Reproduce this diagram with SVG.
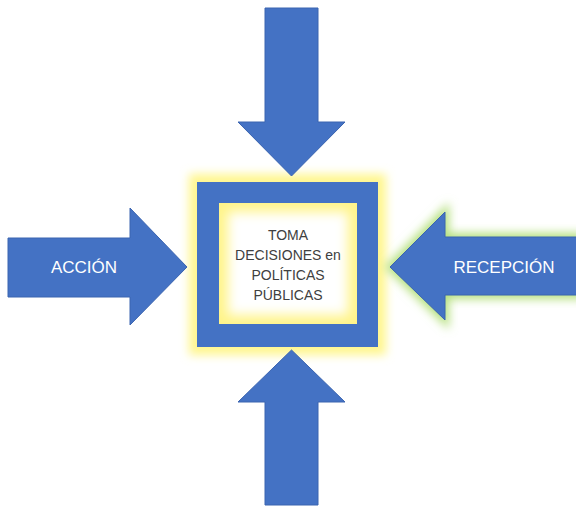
<svg xmlns="http://www.w3.org/2000/svg" width="576" height="516" viewBox="0 0 576 516">
<style>
.arrow{fill:#4472C4;stroke:#3A64B0;stroke-width:1}
.lbl{font-family:"Liberation Sans","Open Sans",sans-serif;font-size:17px;fill:#FFFFFF;text-anchor:middle}
.ctr{font-family:"Liberation Sans","Open Sans",sans-serif;font-size:14px;fill:#404040;text-anchor:middle}
</style>
<defs>
<filter id="glowY" x="-20%" y="-20%" width="140%" height="140%">
<feGaussianBlur stdDeviation="5"/>
</filter>
<filter id="glowG" x="-20%" y="-30%" width="140%" height="160%">
<feGaussianBlur stdDeviation="5"/>
</filter>
<filter id="soft" x="-20%" y="-20%" width="140%" height="140%">
<feGaussianBlur stdDeviation="6"/>
</filter>
<clipPath id="innerClip"><rect x="219" y="203" width="138" height="121"/></clipPath>
</defs>
<rect width="576" height="516" fill="#FFFFFF"/>
<g id="center">
<rect x="189" y="174" width="197" height="181" fill="#FFF68F" filter="url(#glowY)"/>
<rect x="197" y="182" width="181" height="165" fill="#4472C4"/>
<g clip-path="url(#innerClip)">
<rect x="219" y="203" width="138" height="121" fill="#FFF48A"/>
<rect x="228" y="212" width="120" height="103" fill="#FFFFFF" filter="url(#soft)"/>
</g>
<text class="ctr" x="288" y="240">TOMA</text>
<text class="ctr" x="288" y="260">DECISIONES en</text>
<text class="ctr" x="288" y="280">POLÍTICAS</text>
<text class="ctr" x="288" y="300">PÚBLICAS</text>
</g>
<g id="connectors">
<g id="arrow-top">
<polygon class="arrow" points="265,8 318,8 318,122 345,122 291.5,176 238,122 265,122"/>
</g>
<g id="arrow-bottom">
<polygon class="arrow" points="291.5,350 345,402 318,402 318,505 265,505 265,402 238,402"/>
</g>
<g id="arrow-left">
<polygon class="arrow" points="8,238 130,238 130,208 187,267 130,325 130,297 8,297"/>
<text class="lbl" x="84" y="273">ACCIÓN</text>
</g>
<g id="arrow-right">
<polygon points="390,267 445,212 445,237 580,237 580,295 445,295 445,320" fill="#B5E07E" stroke="#B5E07E" stroke-width="8" filter="url(#glowG)"/>
<polygon class="arrow" points="390,267 445,212 445,237 580,237 580,295 445,295 445,320"/>
<text class="lbl" x="504" y="273">RECEPCIÓN</text>
</g>
</g>
</svg>
